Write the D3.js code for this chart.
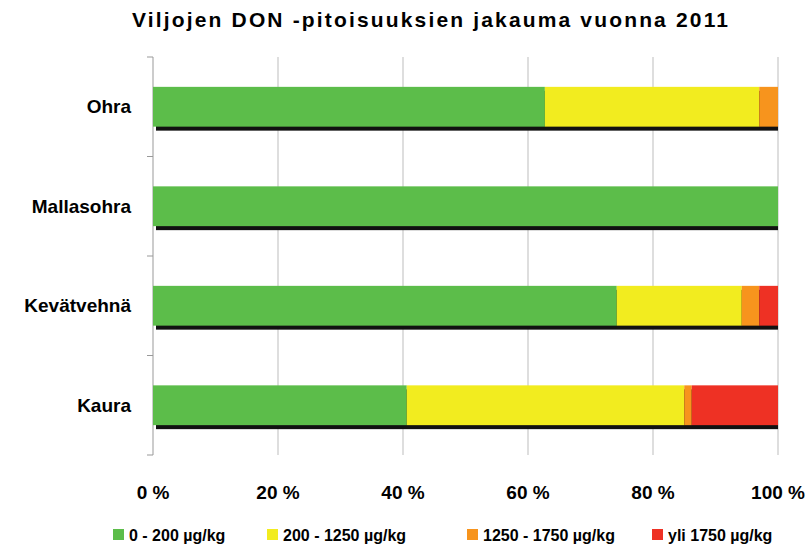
<!DOCTYPE html>
<html><head><meta charset="utf-8">
<script src="https://cdn.jsdelivr.net/npm/d3@7"></script>
<style>body{margin:0;background:#fff;font-family:"Liberation Sans",Arial,sans-serif;}</style>
</head><body>
<script>
var categories = ["Ohra", "Mallasohra", "Kevätvehnä", "Kaura"];
var seriesNames = ["0 - 200 µg/kg", "200 - 1250 µg/kg", "1250 - 1750 µg/kg", "yli 1750 µg/kg"];
var colors = ["#5cbd4a", "#f2ec1f", "#f7941d", "#ee3124"];
var s1 = [62.7, 100, 74.2, 40.6];
var s2 = [34.3, 0, 20.0, 44.4];
var s3 = [3.0, 0, 2.8, 1.2];
var s4 = [0, 0, 3.0, 13.8];
var ticks = [0, 20, 40, 60, 80, 100];

var margin = {top: 57, left: 153},
    width = 625, height = 398;

var svg = d3.select("body").append("svg").attr("width", 812).attr("height", 551);
var g = svg.append("g").attr("transform", "translate(" + margin.left + "," + margin.top + ")");

var x = d3.scaleLinear().domain([0, 100]).range([0, width]);
var y = d3.scaleBand().domain(categories).range([0, height]).paddingInner(0.6).paddingOuter(0.3);

svg.append("text").attr("x", 430).attr("y", 27).attr("text-anchor", "middle")
  .style("font-weight", "bold").style("font-size", "21px").attr("textLength", 596)
  .text("Viljojen DON -pitoisuuksien jakauma vuonna 2011");

// gridlines
g.selectAll(".grid").data(ticks.slice(1)).enter().append("line")
  .attr("x1", d => x(d)).attr("x2", d => x(d)).attr("y1", 0).attr("y2", height)
  .attr("stroke", "#bdbdbd");

// left axis with band-boundary ticks
g.append("line").attr("x1", 0).attr("x2", 0).attr("y1", 0).attr("y2", height).attr("stroke", "#999");
var step = height / categories.length;
g.selectAll(".yt").data(d3.range(categories.length + 1)).enter().append("line")
  .attr("x1", -6).attr("x2", 0).attr("y1", d => d * step).attr("y2", d => d * step).attr("stroke", "#999");

var data = categories.map(function(c, i) { return {cat: c, v: [s1[i], s2[i], s3[i], s4[i]]}; });

// shadows
g.selectAll(".shadow").data(data).enter().append("rect")
  .attr("x", 3).attr("y", d => y(d.cat) + 4)
  .attr("width", d => x(d3.sum(d.v)) - 3).attr("height", y.bandwidth())
  .attr("fill", "#111");

data.forEach(function(d) {
  var acc = 0;
  d.v.forEach(function(v, j) {
    if (v > 0) {
      g.append("rect").attr("x", x(acc)).attr("y", y(d.cat))
        .attr("width", x(acc + v) - x(acc)).attr("height", y.bandwidth())
        .attr("fill", colors[j]);
    }
    acc += v;
  });
});

g.selectAll(".cl").data(categories).enter().append("text")
  .attr("x", -22).attr("y", d => y(d) + y.bandwidth() / 2).attr("dy", "0.35em")
  .attr("text-anchor", "end").style("font-weight", "bold").style("font-size", "19px").text(d => d);

g.selectAll(".xl").data(ticks).enter().append("text")
  .attr("x", d => x(d)).attr("y", height + 44).attr("text-anchor", "middle")
  .style("font-weight", "bold").style("font-size", "19px").text(d => d + " %");

// legend
var lx = [113, 267, 467, 652];
var leg = svg.selectAll(".leg").data(seriesNames).enter().append("g")
  .attr("transform", (d, i) => "translate(" + lx[i] + ",529)");
leg.append("rect").attr("width", 11).attr("height", 11).attr("fill", (d, i) => colors[i]);
leg.append("text").attr("x", 16).attr("y", 6).attr("dy", "0.35em")
  .style("font-weight", "bold").style("font-size", "16px").text(d => d);
</script>
</body></html>
